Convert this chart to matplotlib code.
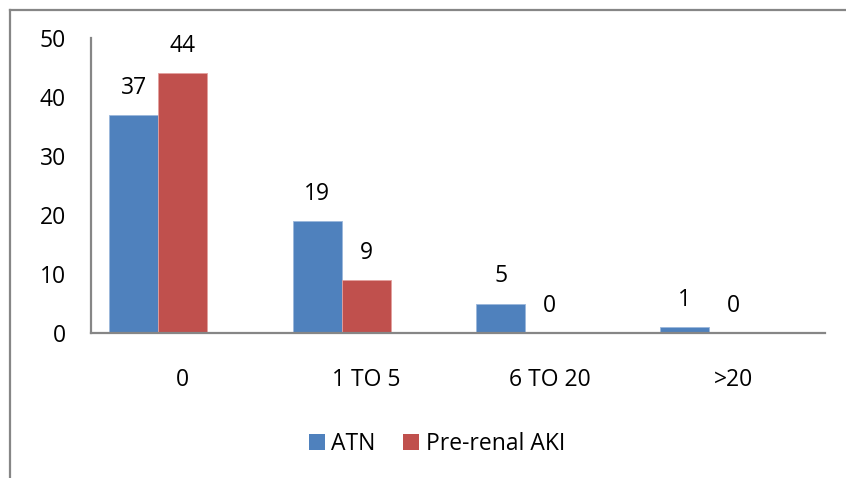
import matplotlib
matplotlib.use("Agg")
import matplotlib.pyplot as plt
from matplotlib.patches import Patch
from matplotlib.lines import Line2D
import numpy as np

categories = ["0", "1 TO 5", "6 TO 20", ">20"]
atn = [37, 19, 5, 1]
prerenal = [44, 9, 0, 0]
series_names = ["ATN", "Pre-renal AKI"]
yticks = [0, 10, 20, 30, 40, 50]

BLUE = "#4F81BD"
RED = "#C0504D"
GRAY = "#868686"

plt.rcParams["font.family"] = ["Open Sans", "DejaVu Sans"]
FS = 16.5

W, H = 846, 478
fig = plt.figure(figsize=(W / 100, H / 100), dpi=100)

# outer chart frame (left and top edges visible)
fig.add_artist(Line2D([10 / W, 10 / W], [0, 1 - 10 / H], color=GRAY, lw=1.6))
fig.add_artist(Line2D([10 / W, 1], [1 - 10 / H, 1 - 10 / H], color=GRAY, lw=1.6))

x0, x1 = 91, 825
y_top, y_bot = 38, 333
ax = fig.add_axes([x0 / W, 1 - y_bot / H, (x1 - x0) / W, (y_bot - y_top) / H])

x = np.arange(len(categories))
bw = 0.267
shift = -0.134  # bar groups sit a little left of the category labels
b1 = ax.bar(x + shift - bw / 2, atn, bw, color=BLUE, edgecolor="#9BB7DB", linewidth=0.6)
b2 = ax.bar(x + shift + bw / 2, prerenal, bw, color=RED, edgecolor="#E3A09E", linewidth=0.6)

for bars, vals in ((b1, atn), (b2, prerenal)):
    for rect, v in zip(bars, vals):
        ax.annotate(str(v), (rect.get_x() + rect.get_width() / 2, v),
                    xytext=(0, 27), textcoords="offset pixels",
                    ha="center", va="center", fontsize=FS, color="black")

ax.set_xlim(-0.5, len(categories) - 0.5)
ax.set_ylim(0, 50)
ax.set_yticks(yticks)
ax.set_yticklabels([str(t) for t in yticks], fontsize=FS)
ax.set_xticks(x)
ax.set_xticklabels(categories, fontsize=FS)
ax.tick_params(axis="y", length=0, pad=18)
ax.tick_params(axis="x", length=0, pad=25)

for s in ("top", "right"):
    ax.spines[s].set_visible(False)
for s in ("left", "bottom"):
    ax.spines[s].set_color(GRAY)
    ax.spines[s].set_linewidth(1.6)

handles = [Patch(facecolor=BLUE), Patch(facecolor=RED)]
fig.legend(handles, series_names, loc="center", bbox_to_anchor=(437 / W, 1 - 444 / H),
           ncol=2, frameon=False, fontsize=FS, handlelength=0.7, handleheight=0.7,
           handletextpad=0.3, columnspacing=1.2)

fig.savefig("out.png", dpi=100)
